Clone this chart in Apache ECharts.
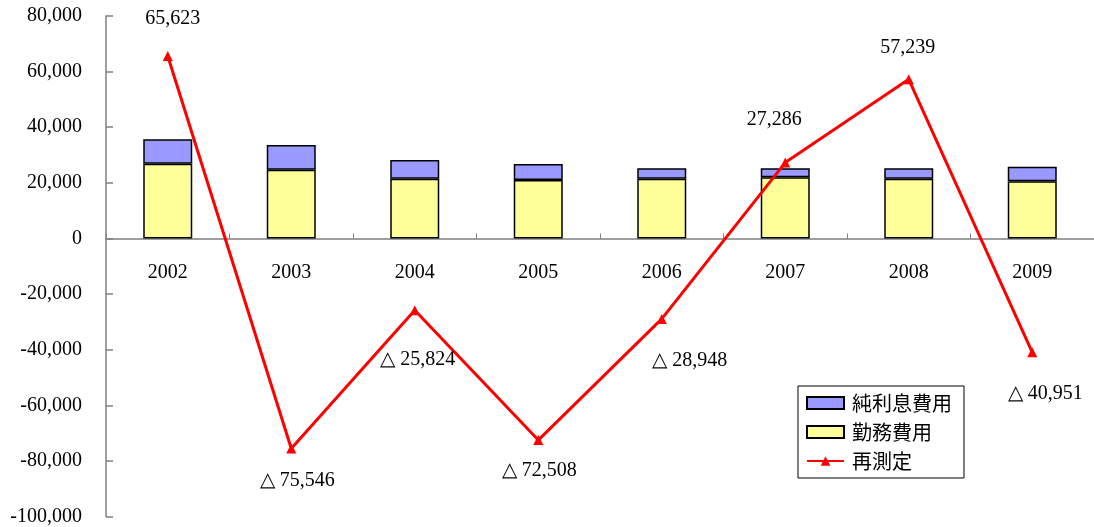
<!DOCTYPE html>
<html>
<head>
<meta charset="utf-8">
<script src="https://cdn.jsdelivr.net/npm/echarts@6/dist/echarts.min.js"></script>
<style>
  html, body { margin: 0; padding: 0; background: #fff; }
  #chart { width: 1094px; height: 527px; }
</style>
</head>
<body>
<div id="chart"></div>
<script>
// 年度
const years = ['2002', '2003', '2004', '2005', '2006', '2007', '2008', '2009'];
// 勤務費用
const serviceCost = [26900, 24700, 21500, 21000, 21500, 22000, 21500, 20600];
// 純利息費用
const netInterest = [8800, 8900, 6700, 5800, 3700, 3200, 3700, 5200];
// 再測定
const remeasurement = [65623, -75546, -25824, -72508, -28948, 27286, 57239, -40951];

// ラベル位置(マーカー中心からのずれ)
const labelOffsets = [[5, -37], [6, 32], [3, 50], [1, 31], [28, 42], [-11, -43], [-1, -32], [13, 41]];

const serif = '"Liberation Serif", "Times New Roman", serif';
const cjk = '"Noto Sans CJK JP", sans-serif';

function fmt(v) {
  return Math.abs(v).toString().replace(/\B(?=(\d{3})+(?!\d))/g, ',');
}
function axisFmt(v) {
  return (v < 0 ? '-' : '') + fmt(v);
}

const chart = echarts.init(document.getElementById('chart'), null, { renderer: 'canvas' });

const gridTop = 16;
const gridBottom = 10.5;
const yMin = -100000;
const yMax = 80000;
// 年度ラベルはゼロ線の下に置く
const plotH = 527 - gridTop - gridBottom;
const zeroY = gridTop + plotH * yMax / (yMax - yMin);
const yearLabelMargin = (zeroY + 24) - (527 - gridBottom);

chart.setOption({
  animation: false,
  backgroundColor: '#fff',
  grid: { left: 106, right: 0, top: gridTop, bottom: gridBottom, containLabel: false, outerBoundsMode: 'none' },
  legend: {
    orient: 'vertical',
    left: 798,
    top: 386,
    width: 164,
    padding: [7, 12, 7, 8],
    itemGap: 9,
    itemWidth: 37,
    itemHeight: 12,
    borderColor: '#000',
    borderWidth: 1,
    backgroundColor: '#fff',
    data: [
      { name: '純利息費用', icon: 'rect' },
      { name: '勤務費用', icon: 'rect' },
      { name: '再測定' }
    ],
    textStyle: { fontFamily: cjk, fontSize: 20, color: '#000', padding: [0, 0, 0, 3] }
  },
  xAxis: {
    type: 'category',
    data: years,
    axisLine: { onZero: true, lineStyle: { color: '#808080', width: 1.5 } },
    axisTick: { show: true, inside: true, length: 5, alignWithLabel: false, lineStyle: { color: '#808080', width: 1 } },
    axisLabel: { margin: yearLabelMargin, fontFamily: serif, fontSize: 20, color: '#000' },
    splitLine: { show: false }
  },
  yAxis: {
    type: 'value',
    min: yMin,
    max: yMax,
    interval: 20000,
    axisLine: { show: true, lineStyle: { color: '#808080', width: 1.5 } },
    axisTick: { show: true, inside: true, length: 7, lineStyle: { color: '#808080', width: 1.5 } },
    axisLabel: { margin: 24, fontFamily: serif, fontSize: 20, color: '#000', formatter: axisFmt },
    splitLine: { show: false }
  },
  series: [
    {
      name: '勤務費用',
      type: 'bar',
      stack: 'cost',
      data: serviceCost,
      barWidth: 49,
      itemStyle: { color: '#FFFF99', borderColor: '#000', borderWidth: 1.5 },
      z: 2
    },
    {
      name: '純利息費用',
      type: 'bar',
      stack: 'cost',
      data: netInterest,
      barWidth: 49,
      itemStyle: { color: '#9999FF', borderColor: '#000', borderWidth: 1.5 },
      z: 2
    },
    {
      name: '再測定',
      type: 'line',
      data: remeasurement.map((v, i) => ({
        value: v,
        label: { offset: labelOffsets[i] }
      })),
      symbol: 'triangle',
      symbolSize: 10,
      lineStyle: { color: '#FF0000', width: 3 },
      itemStyle: { color: '#FF0000' },
      label: {
        show: true,
        position: 'inside',
        fontFamily: serif,
        fontSize: 20,
        color: '#000',
        formatter: p => (p.value < 0 ? '△ ' : '') + fmt(p.value)
      },
      z: 5
    }
  ]
});
</script>
</body>
</html>
